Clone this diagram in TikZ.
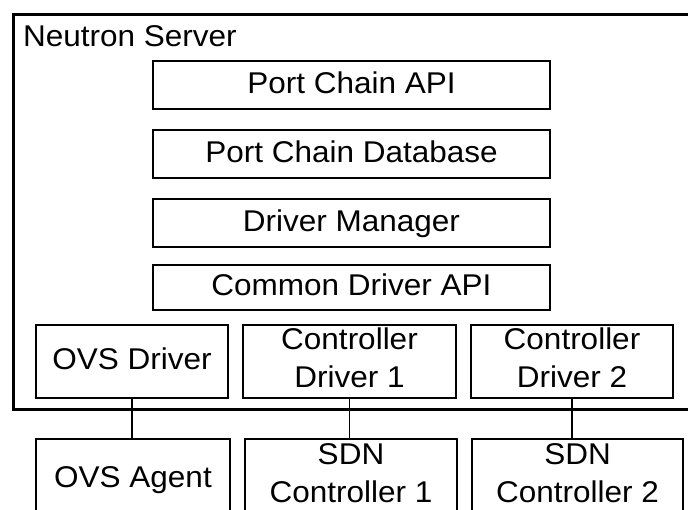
\documentclass[tikz,border=0pt]{standalone}
\usepackage{fontspec}
\setmainfont[FakeStretch=1.05]{Liberation Sans}
\begin{document}
\begin{tikzpicture}[x=1pt,y=-1pt,
  every node/.style={font=\fontsize{30}{37.5}\selectfont},
  blk/.style={draw=black, line width=2.4pt, inner sep=0pt, align=center,
    text height=21.5pt, text depth=5pt},
  link/.style={draw=black, line width=1.3pt}]
\useasboundingbox (0,0) rectangle (688,510);
\clip (0,0) rectangle (688,510);
\fill[white] (0,0) rectangle (688,510);
% outer server box
\node[draw=black, line width=2.6pt, inner sep=0pt, minimum width=690pt, minimum height=395pt, anchor=north west] (server) at (12,13) {};
\node[anchor=base west, inner sep=0pt] (servertitle) at (23,47) {Neutron Server};
% stacked layers
\node[blk, minimum width=397pt, minimum height=48pt] (api) at (351.5,85) {Port Chain API};
\node[blk, minimum width=397pt, minimum height=48pt] (db) at (351.5,154) {Port Chain Database};
\node[blk, minimum width=397pt, minimum height=48pt] (mgr) at (351.5,223) {Driver Manager};
\node[blk, minimum width=397pt, minimum height=45pt] (common) at (351.5,287.5) {Common Driver API};
% drivers
\node[blk, minimum width=192pt, minimum height=73pt] (ovsd) at (132,361.5) {OVS Driver};
\node[blk, minimum width=213pt, minimum height=73pt, text height=59pt, text depth=7pt] (cd1) at (349.5,361.5) {Controller\\Driver 1};
\node[blk, minimum width=202pt, minimum height=73pt, text height=59pt, text depth=7pt] (cd2) at (572,361.5) {Controller\\Driver 2};
% agents / controllers (cut by the lower edge)
\node[blk, anchor=north, minimum width=194pt, inner ysep=7.5pt, text height=40.5pt, text depth=40pt] (agent) at (133,438) {OVS Agent};
\node[blk, anchor=north, minimum width=212pt, inner ysep=5pt, text height=58pt, text depth=40pt] (sdn1) at (351,438) {SDN\\Controller 1};
\node[blk, anchor=north, minimum width=211pt, inner ysep=5pt, text height=58pt, text depth=40pt] (sdn2) at (577.5,438) {SDN\\Controller 2};
% connectors
\draw[link] (ovsd.south) -- (ovsd.south |- agent.north);
\draw[link] (cd1.south) -- (cd1.south |- sdn1.north);
\draw[link] (cd2.south) -- (cd2.south |- sdn2.north);
\end{tikzpicture}
\end{document}
